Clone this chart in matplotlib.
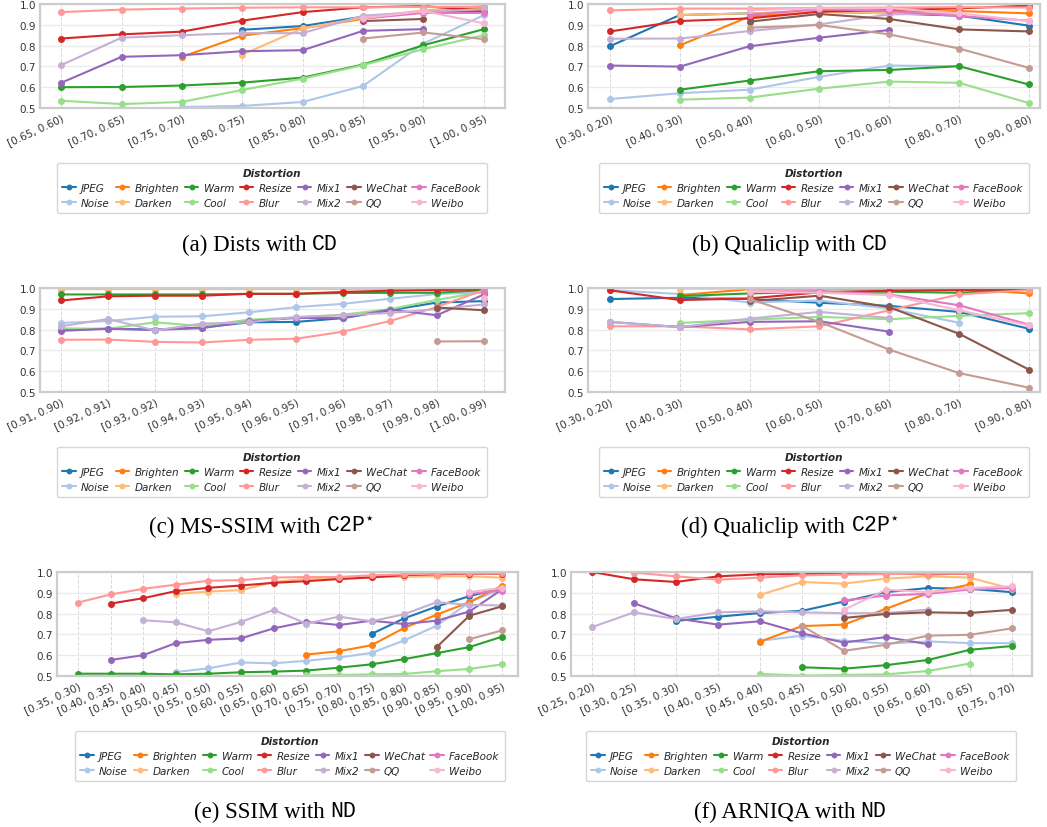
import numpy as np
import matplotlib
matplotlib.use("Agg")
import matplotlib.pyplot as plt
import seaborn as sns

n = np.nan

series_names = ["JPEG", "Noise", "Brighten", "Darken", "Warm", "Cool", "Resize",
                "Blur", "Mix1", "Mix2", "WeChat", "QQ", "FaceBook", "Weibo"]

# ---------------- (a) Dists with CD ----------------
cats_a = ["[0.65, 0.60)", "[0.70, 0.65)", "[0.75, 0.70)", "[0.80, 0.75)",
          "[0.85, 0.80)", "[0.90, 0.85)", "[0.95, 0.90)", "[1.00, 0.95)"]
a_jpeg = [n, n, n, 0.876, 0.894, 0.939, 0.962, 0.966]
a_noise = [n, n, 0.505, 0.510, 0.529, 0.606, 0.810, 0.947]
a_brighten = [n, n, 0.746, 0.848, 0.884, 0.928, 0.966, 0.982]
a_darken = [n, n, n, 0.757, 0.883, 0.934, 0.970, 0.990]
a_warm = [0.600, 0.601, 0.608, 0.622, 0.646, 0.709, 0.802, 0.879]
a_cool = [0.535, 0.519, 0.529, 0.587, 0.641, 0.706, 0.783, 0.850]
a_resize = [0.834, 0.854, 0.867, 0.920, 0.961, 0.984, 0.990, 0.968]
a_blur = [0.961, 0.973, 0.978, 0.982, 0.984, 0.984, 0.986, 0.987]
a_mix1 = [0.621, 0.746, 0.754, 0.773, 0.778, 0.871, 0.879, n]
a_mix2 = [0.706, 0.838, 0.850, 0.860, 0.860, 0.944, 0.962, 0.975]
a_wechat = [n, n, n, n, n, 0.918, 0.928, n]
a_qq = [n, n, n, n, n, 0.834, 0.863, 0.831]
a_facebook = [n, n, n, n, n, 0.930, 0.957, 0.957]
a_weibo = [n, n, n, n, n, 0.932, 0.966, 0.907]

# ---------------- (b) Qualiclip with CD ----------------
cats_b = ["[0.30, 0.20)", "[0.40, 0.30)", "[0.50, 0.40)", "[0.60, 0.50)",
          "[0.70, 0.60)", "[0.80, 0.70)", "[0.90, 0.80)"]
b_jpeg = [0.797, 0.947, 0.955, 0.963, 0.955, 0.944, 0.896]
b_noise = [0.543, 0.571, 0.588, 0.650, 0.704, 0.701, n]
b_brighten = [n, 0.801, 0.940, 0.965, 0.962, 0.966, 0.955]
b_darken = [n, 0.947, 0.955, 0.963, 0.955, 0.950, n]
b_warm = [n, 0.588, 0.632, 0.677, 0.683, 0.701, 0.613]
b_cool = [n, 0.540, 0.550, 0.593, 0.627, 0.621, 0.524]
b_resize = [0.868, 0.918, 0.931, 0.963, 0.971, 0.979, 0.992]
b_blur = [0.969, 0.978, 0.978, 0.981, 0.983, 0.985, 0.983]
b_mix1 = [0.704, 0.699, 0.797, 0.838, 0.875, n, n]
b_mix2 = [0.833, 0.834, 0.870, 0.902, 0.950, 0.955, n]
b_wechat = [n, n, 0.915, 0.952, 0.928, 0.878, 0.868]
b_qq = [n, n, 0.886, 0.899, 0.854, 0.786, 0.693]
b_facebook = [n, n, 0.948, 0.976, 0.966, 0.942, 0.920]
b_weibo = [n, n, 0.970, 0.980, 0.980, 0.955, 0.918]

# ---------------- (c) MS-SSIM with C2P* ----------------
cats_c = ["[0.91, 0.90)", "[0.92, 0.91)", "[0.93, 0.92)", "[0.94, 0.93)",
          "[0.95, 0.94)", "[0.96, 0.95)", "[0.97, 0.96)", "[0.98, 0.97)",
          "[0.99, 0.98)", "[1.00, 0.99)"]
c_jpeg = [0.800, 0.804, 0.800, 0.810, 0.835, 0.837, 0.855, 0.893, 0.930, 0.937]
c_noise = [0.832, 0.841, 0.862, 0.864, 0.883, 0.908, 0.924, 0.948, 0.971, 0.979]
c_brighten = [0.997, 0.997, 0.997, 0.997, 0.997, 0.997, 0.997, 0.997, 0.997, 0.997]
c_darken = [0.995, 0.995, 0.995, 0.995, 0.995, 0.995, 0.995, 0.996, 0.996, 0.996]
c_warm = [0.969, 0.969, 0.969, 0.969, 0.972, 0.972, 0.976, 0.977, 0.977, 0.990]
c_cool = [0.806, 0.804, 0.835, 0.817, 0.848, 0.858, 0.872, 0.898, 0.943, 0.982]
c_resize = [0.940, 0.960, 0.963, 0.963, 0.972, 0.972, 0.981, 0.987, 0.990, 0.994]
c_blur = [0.751, 0.752, 0.741, 0.738, 0.751, 0.756, 0.790, 0.841, 0.909, 0.990]
c_mix1 = [0.794, 0.804, 0.799, 0.807, 0.840, 0.856, 0.856, 0.896, 0.869, 0.969]
c_mix2 = [0.816, 0.851, 0.796, 0.829, 0.835, 0.861, 0.869, 0.880, 0.898, 0.921]
c_wechat = [n, n, n, n, n, n, n, n, 0.906, 0.893]
c_qq = [n, n, n, n, n, n, n, n, 0.743, 0.744]
c_facebook = [n, n, n, n, n, n, n, n, n, 0.980]
c_weibo = [n, n, n, n, n, n, n, n, n, 0.950]

# ---------------- (d) Qualiclip with C2P* ----------------
cats_d = cats_b
d_jpeg = [0.947, 0.953, 0.947, 0.929, 0.914, 0.885, 0.804]
d_noise = [0.990, 0.971, 0.930, 0.940, 0.901, 0.833, n]
d_brighten = [n, 0.966, 0.994, 0.995, 0.995, 0.995, 0.974]
d_darken = [n, 0.997, 0.997, 0.997, 0.997, 0.997, 0.990]
d_warm = [n, 0.961, 0.974, 0.982, 0.982, 0.977, 0.995]
d_cool = [n, 0.832, 0.848, 0.861, 0.850, 0.866, 0.879]
d_resize = [0.989, 0.942, 0.950, 0.979, 0.987, 0.990, 0.994]
d_blur = [0.816, 0.816, 0.801, 0.816, 0.893, 0.969, 0.990]
d_mix1 = [0.837, 0.812, 0.837, 0.840, 0.790, n, n]
d_mix2 = [0.837, 0.812, 0.853, 0.885, 0.856, n, n]
d_wechat = [n, n, 0.937, 0.963, 0.908, 0.780, 0.608]
d_qq = [n, n, 0.947, 0.837, 0.704, 0.591, 0.521]
d_facebook = [n, n, 0.982, 0.985, 0.969, 0.917, 0.824]
d_weibo = [n, n, 0.982, 0.977, 0.966, 0.893, 0.820]

# ---------------- (e) SSIM with ND ----------------
cats_e = ["[0.35, 0.30)", "[0.40, 0.35)", "[0.45, 0.40)", "[0.50, 0.45)",
          "[0.55, 0.50)", "[0.60, 0.55)", "[0.65, 0.60)", "[0.70, 0.65)",
          "[0.75, 0.70)", "[0.80, 0.75)", "[0.85, 0.80)", "[0.90, 0.85)",
          "[0.95, 0.90)", "[1.00, 0.95)"]
e_jpeg = [n, n, n, n, n, n, n, n, n, 0.702, 0.777, 0.834, 0.884, 0.923]
e_noise = [n, n, n, 0.519, 0.537, 0.565, 0.561, 0.573, 0.589, 0.611, 0.671, 0.742, 0.855, 0.919]
e_brighten = [n, n, n, n, n, n, n, 0.603, 0.619, 0.648, 0.731, 0.795, 0.855, 0.935]
e_darken = [n, n, n, 0.894, 0.906, 0.913, 0.952, 0.968, 0.970, 0.976, 0.977, 0.979, 0.979, 0.973]
e_warm = [0.511, 0.511, 0.511, 0.508, 0.511, 0.518, 0.521, 0.526, 0.540, 0.556, 0.581, 0.610, 0.639, 0.689]
e_cool = [n, n, n, n, n, n, n, 0.503, 0.505, 0.508, 0.510, 0.523, 0.534, 0.556]
e_resize = [n, 0.848, 0.874, 0.908, 0.924, 0.935, 0.948, 0.956, 0.966, 0.974, 0.985, 0.989, 0.992, 0.992]
e_blur = [0.853, 0.892, 0.919, 0.939, 0.958, 0.961, 0.973, 0.976, 0.976, 0.984, 0.989, 0.992, 0.994, 0.994]
e_mix1 = [n, 0.577, 0.600, 0.658, 0.674, 0.681, 0.729, 0.761, 0.745, 0.766, 0.750, 0.766, 0.810, 0.916]
e_mix2 = [n, n, 0.768, 0.758, 0.715, 0.760, 0.818, 0.752, 0.785, 0.763, 0.797, 0.855, 0.842, 0.839]
e_wechat = [n, n, n, n, n, n, n, n, n, n, n, 0.639, 0.790, 0.835]
e_qq = [n, n, n, n, n, n, n, n, n, n, n, n, 0.677, 0.719]
e_facebook = [n, n, n, n, n, n, n, n, n, n, n, n, 0.895, 0.911]
e_weibo = [n, n, n, n, n, n, n, n, n, n, n, n, 0.903, 0.924]

# ---------------- (f) ARNIQA with ND ----------------
cats_f = ["[0.25, 0.20)", "[0.30, 0.25)", "[0.35, 0.30)", "[0.40, 0.35)",
          "[0.45, 0.40)", "[0.50, 0.45)", "[0.55, 0.50)", "[0.60, 0.55)",
          "[0.65, 0.60)", "[0.70, 0.65)", "[0.75, 0.70)"]
f_jpeg = [n, n, 0.765, 0.785, 0.803, 0.813, 0.858, 0.903, 0.923, 0.919, 0.903]
f_noise = [n, n, n, n, 0.669, 0.694, 0.669, 0.656, 0.666, 0.658, 0.658]
f_brighten = [n, n, n, n, 0.665, 0.740, 0.747, 0.823, 0.898, 0.940, n]
f_darken = [n, n, n, n, 0.890, 0.952, 0.944, 0.968, 0.979, 0.973, 0.919]
f_warm = [n, n, n, n, n, 0.542, 0.535, 0.552, 0.577, 0.626, 0.644]
f_cool = [n, n, n, n, 0.510, 0.502, 0.505, 0.508, 0.524, 0.560, n]
f_resize = [1.000, 0.965, 0.952, 0.979, 0.989, 0.990, 0.992, 0.992, 0.989, 0.992, n]
f_blur = [n, 0.997, 0.979, 0.963, 0.973, 0.984, 0.987, 0.990, 0.992, 0.992, n]
f_mix1 = [n, 0.850, 0.777, 0.747, 0.763, 0.705, 0.661, 0.687, 0.653, n, n]
f_mix2 = [0.735, 0.806, 0.774, 0.806, 0.811, 0.806, 0.802, 0.802, 0.819, n, n]
f_wechat = [n, n, n, n, n, n, 0.779, 0.798, 0.806, 0.803, 0.818]
f_qq = [n, n, n, n, n, 0.742, 0.621, 0.650, 0.694, 0.698, 0.729]
f_facebook = [n, n, n, n, n, n, 0.863, 0.887, 0.895, 0.916, 0.923]
f_weibo = [n, n, n, n, n, n, 0.818, 0.915, 0.903, 0.923, 0.931]

panels = [
    dict(cats=cats_a, data=[a_jpeg, a_noise, a_brighten, a_darken, a_warm, a_cool, a_resize,
                            a_blur, a_mix1, a_mix2, a_wechat, a_qq, a_facebook, a_weibo],
         box=(40, 5, 505, 109), xpad=(0.35, 0.35), leg=(272, 159),
         cap=("(a) Dists with ", "CD", 260, 245)),
    dict(cats=cats_b, data=[b_jpeg, b_noise, b_brighten, b_darken, b_warm, b_cool, b_resize,
                            b_blur, b_mix1, b_mix2, b_wechat, b_qq, b_facebook, b_weibo],
         box=(588, 5, 1040, 109), xpad=(0.315, 0.16), leg=(814, 159),
         cap=("(b) Qualiclip with ", "CD", 790, 245)),
    dict(cats=cats_c, data=[c_jpeg, c_noise, c_brighten, c_darken, c_warm, c_cool, c_resize,
                            c_blur, c_mix1, c_mix2, c_wechat, c_qq, c_facebook, c_weibo],
         box=(40, 289, 505, 393), xpad=(0.45, 0.45), leg=(272, 443),
         cap=("(c) MS-SSIM with ", "C2P*", 262, 527)),
    dict(cats=cats_d, data=[d_jpeg, d_noise, d_brighten, d_darken, d_warm, d_cool, d_resize,
                            d_blur, d_mix1, d_mix2, d_wechat, d_qq, d_facebook, d_weibo],
         box=(588, 289, 1040, 393), xpad=(0.315, 0.16), leg=(814, 443),
         cap=("(d) Qualiclip with ", "C2P*", 790, 527)),
    dict(cats=cats_e, data=[e_jpeg, e_noise, e_brighten, e_darken, e_warm, e_cool, e_resize,
                            e_blur, e_mix1, e_mix2, e_wechat, e_qq, e_facebook, e_weibo],
         box=(57, 573, 518, 677), xpad=(0.64, 0.49), leg=(290, 727),
         cap=("(e) SSIM with ", "ND", 275, 812)),
    dict(cats=cats_f, data=[f_jpeg, f_noise, f_brighten, f_darken, f_warm, f_cool, f_resize,
                            f_blur, f_mix1, f_mix2, f_wechat, f_qq, f_facebook, f_weibo],
         box=(571, 573, 1032, 677), xpad=(0.5, 0.48), leg=(801, 727),
         cap=("(f) ARNIQA with ", "ND", 790, 812)),
]

sns.set_theme(style="whitegrid")
plt.rcParams["font.family"] = ["DejaVu Sans"]

W, H = 1047, 828
fig = plt.figure(figsize=(W / 100, H / 100), dpi=100)
palette = plt.get_cmap("tab20").colors

for p in panels:
    l, t, r, b = p["box"]
    ax = fig.add_axes([l / W, 1 - b / H, (r - l) / W, (b - t) / H])
    x = np.arange(len(p["cats"]))
    handles = []
    for i, (name, vals) in enumerate(zip(series_names, p["data"])):
        h, = ax.plot(x, vals, color=palette[i], marker="o", markersize=4,
                     linewidth=1.5, label=name)
        handles.append(h)
    ax.set_ylim(0.5, 1.0)
    ax.set_yticks([0.5, 0.6, 0.7, 0.8, 0.9, 1.0])
    ax.set_yticklabels(["0.5", "0.6", "0.7", "0.8", "0.9", "1.0"])
    ax.set_xlim(-p["xpad"][0], len(x) - 1 + p["xpad"][1])
    ax.set_xticks(x)
    ax.set_xticklabels(p["cats"], rotation=25, ha="right", rotation_mode="anchor")
    ax.tick_params(axis="both", labelsize=7.5, colors="#333333", pad=3, length=0)
    ax.grid(axis="y", color="#ebebeb", linewidth=1.0, linestyle="-")
    ax.grid(axis="x", color="#d9d9d9", linewidth=0.7, linestyle="--")
    for s in ax.spines.values():
        s.set_color("#cccccc")
        s.set_linewidth(1.6)

    lx, ly = p["leg"]
    leg = fig.legend(handles=handles, loc="upper center",
                     bbox_to_anchor=(lx / W, 1 - ly / H), ncol=7,
                     title="Distortion", fontsize=7.5, title_fontsize=7.5,
                     frameon=True, handlelength=1.3, handletextpad=0.5,
                     columnspacing=0.55, labelspacing=0.45, borderpad=0.5,
                     markerscale=0.8)
    leg.get_title().set_fontstyle("italic")
    leg.get_title().set_fontweight("bold")
    for txt in leg.get_texts():
        txt.set_fontstyle("italic")
    leg.get_frame().set_edgecolor("#cccccc")
    leg.get_frame().set_linewidth(1.0)

# Figure captions: serif description followed by a monospace tag
renderer = fig.canvas.get_renderer()
for p in panels:
    head, tag, cx, cy = p["cap"]
    t1 = fig.text(0, 1 - cy / H, head, family="Liberation Serif", fontsize=16.5,
                  va="center", ha="left", color="black")
    if tag.endswith("*"):
        tag_text = tag[:-1] + r"$^{\star}$"
    else:
        tag_text = tag
    t2 = fig.text(0, 1 - cy / H, tag_text, family="Liberation Mono", fontsize=15.5,
                  va="center", ha="left", color="black")
    w1 = t1.get_window_extent(renderer).width
    w2 = t2.get_window_extent(renderer).width
    x0 = cx - (w1 + w2) / 2
    t1.set_x(x0 / W)
    t2.set_x((x0 + w1) / W)

fig.savefig("out.png", dpi=100)
